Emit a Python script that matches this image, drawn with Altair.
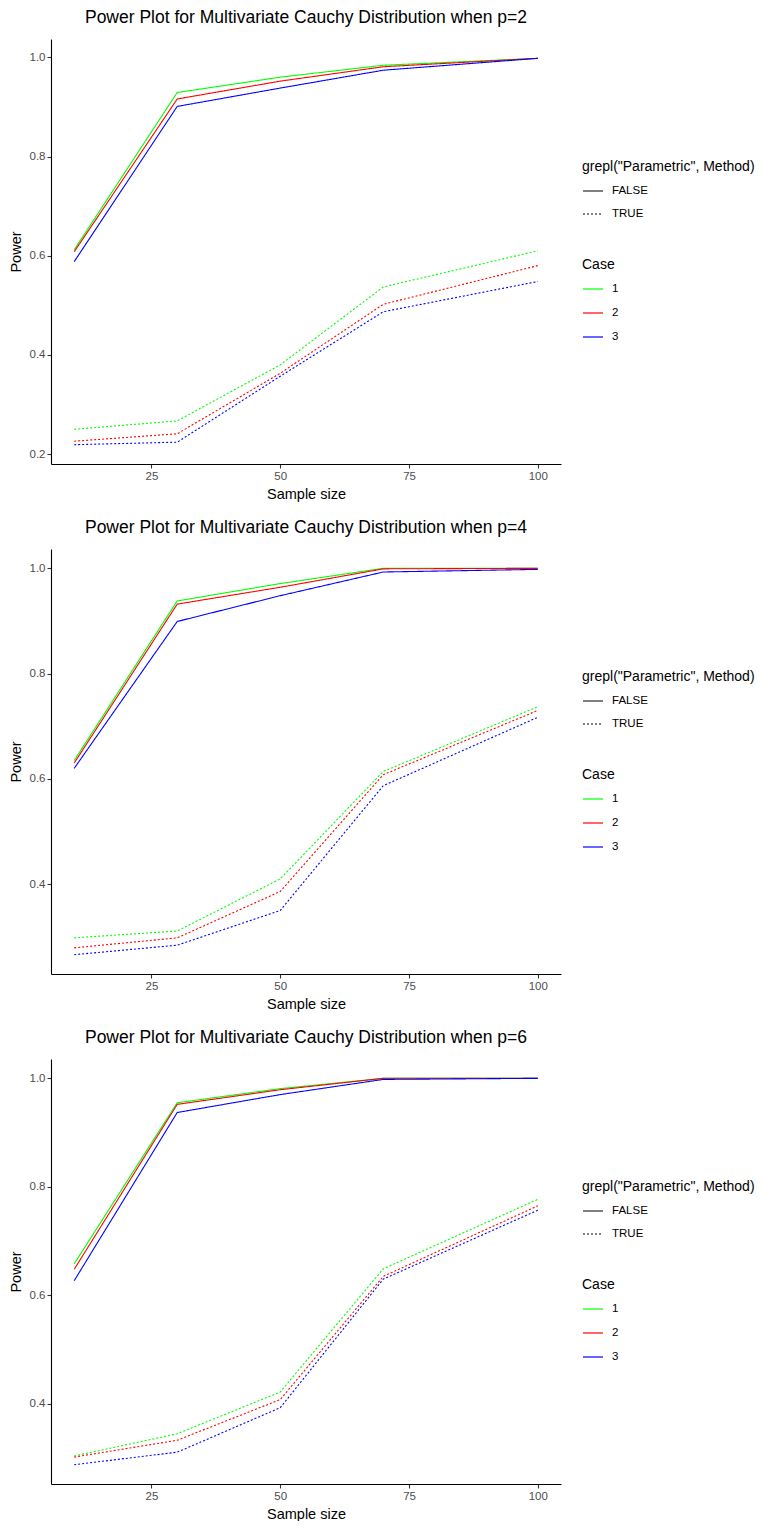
import altair as alt
import pandas as pd

# ---------------- data ----------------
sample_sizes = [10, 30, 50, 70, 100]
case_labels = ["1", "2", "3"]
method_flags = ["FALSE", "TRUE"]
panel_p = [2, 4, 6]

# p = 2
p2_false_case1 = [0.612, 0.929, 0.960, 0.984, 0.998]
p2_false_case2 = [0.608, 0.916, 0.952, 0.981, 0.998]
p2_false_case3 = [0.588, 0.901, 0.938, 0.974, 0.998]
p2_true_case1 = [0.250, 0.267, 0.380, 0.537, 0.610]
p2_true_case2 = [0.226, 0.241, 0.363, 0.502, 0.580]
p2_true_case3 = [0.219, 0.224, 0.357, 0.487, 0.548]

# p = 4
p4_false_case1 = [0.635, 0.938, 0.971, 1.000, 1.000]
p4_false_case2 = [0.630, 0.932, 0.964, 0.999, 1.000]
p4_false_case3 = [0.620, 0.899, 0.948, 0.993, 0.998]
p4_true_case1 = [0.298, 0.311, 0.410, 0.614, 0.737]
p4_true_case2 = [0.279, 0.298, 0.386, 0.608, 0.730]
p4_true_case3 = [0.266, 0.284, 0.350, 0.587, 0.717]

# p = 6
p6_false_case1 = [0.658, 0.955, 0.981, 1.000, 1.000]
p6_false_case2 = [0.648, 0.952, 0.979, 1.000, 1.000]
p6_false_case3 = [0.627, 0.937, 0.970, 0.998, 1.000]
p6_true_case1 = [0.304, 0.345, 0.422, 0.649, 0.777]
p6_true_case2 = [0.302, 0.333, 0.408, 0.635, 0.765]
p6_true_case3 = [0.288, 0.311, 0.393, 0.630, 0.757]

y_ticks_p2 = [0.2, 0.4, 0.6, 0.8, 1.0]
y_ticks_other = [0.4, 0.6, 0.8, 1.0]
x_ticks = [25, 50, 75, 100]

case_colors = ["#00FF00", "#FF0000", "#0000FF"]

panels = {
    2: ([p2_false_case1, p2_false_case2, p2_false_case3],
        [p2_true_case1, p2_true_case2, p2_true_case3], y_ticks_p2),
    4: ([p4_false_case1, p4_false_case2, p4_false_case3],
        [p4_true_case1, p4_true_case2, p4_true_case3], y_ticks_other),
    6: ([p6_false_case1, p6_false_case2, p6_false_case3],
        [p6_true_case1, p6_true_case2, p6_true_case3], y_ticks_other),
}

FONT = "Liberation Sans"
PLOT_W, PLOT_H = 510, 425


def build_df(false_series, true_series):
    rows = []
    for ci, case in enumerate(case_labels):
        for flag, series in (("FALSE", false_series[ci]), ("TRUE", true_series[ci])):
            for n, pw in zip(sample_sizes, series):
                rows.append({"n": n, "power": pw, "Case": case, "Parametric": flag})
    return pd.DataFrame(rows)


def expand(lo, hi, frac=0.05):
    r = hi - lo
    return [lo - frac * r, hi + frac * r]


def panel(p):
    fs, ts, yticks = panels[p]
    df = build_df(fs, ts)
    ydom = expand(df["power"].min(), df["power"].max())
    xdom = expand(min(sample_sizes), max(sample_sizes))
    axis_common = dict(
        grid=False, domainColor="black", domainWidth=1.1,
        tickColor="#333333", tickSize=4, tickWidth=1.1,
        labelColor="#4D4D4D", labelFontSize=11.5, labelFont=FONT,
        titleFontSize=14.5, titleFontWeight="normal", titleColor="black",
        titleFont=FONT, labelPadding=2,
    )
    legend_common = dict(
        orient="none", titleFontSize=14, titleFontWeight="normal",
        titleColor="black", titleFont=FONT, labelFont=FONT,
        labelFontSize=11.5, labelColor="black", symbolType="stroke",
        symbolSize=400, symbolStrokeWidth=1.2, labelOffset=8,
        titlePadding=6, padding=0, legendX=531,
    )
    chart = alt.Chart(df).mark_line(strokeWidth=1.1).encode(
        x=alt.X("n:Q", scale=alt.Scale(domain=xdom, nice=False, zero=False),
                axis=alt.Axis(values=x_ticks, title="Sample size",
                              titlePadding=6, **axis_common)),
        y=alt.Y("power:Q", scale=alt.Scale(domain=ydom, nice=False, zero=False),
                axis=alt.Axis(values=yticks, format=".1f", title="Power",
                              titlePadding=6, **axis_common)),
        color=alt.Color("Case:N",
                        scale=alt.Scale(domain=case_labels, range=case_colors),
                        legend=alt.Legend(title="Case", legendY=219,
                                          rowPadding=7, **legend_common)),
        strokeDash=alt.StrokeDash(
            "Parametric:N",
            scale=alt.Scale(domain=method_flags, range=[[1, 0], [2, 2]]),
            legend=alt.Legend(title='grepl("Parametric", Method)', legendY=121,
                              rowPadding=6, symbolStrokeColor="black",
                              **legend_common)),
    ).properties(
        width=PLOT_W, height=PLOT_H,
        title=alt.TitleParams(
            f"Power Plot for Multivariate Cauchy Distribution when p={p}",
            fontSize=17.5, fontWeight="normal", font=FONT, color="black",
            anchor="middle", offset=13),
    )
    return chart


chart = alt.vconcat(*[panel(p) for p in panel_p], spacing=17).resolve_scale(
    color="independent", strokeDash="independent", x="independent", y="independent"
).resolve_legend(
    color="independent", strokeDash="independent"
).configure(
    background="white", view=alt.ViewConfig(stroke=None)
).properties(padding=0)

chart.save("out.html", embed_options={"renderer": "svg", "actions": False})
